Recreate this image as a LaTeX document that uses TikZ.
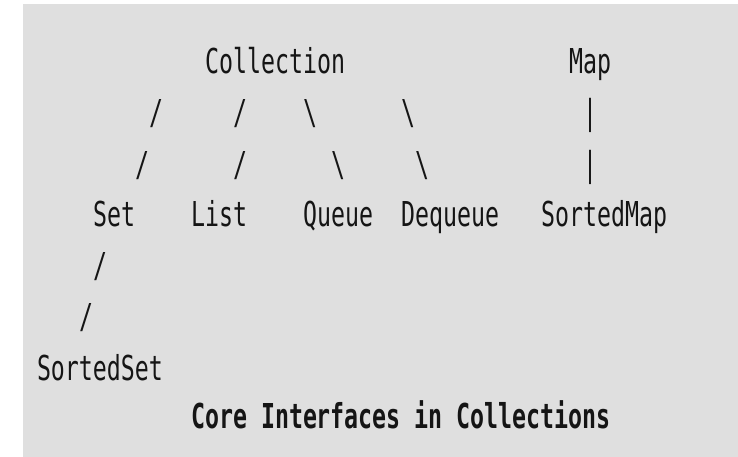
\documentclass[tikz,border=0pt]{standalone}
\usepackage{fontspec}
\newfontfamily\asciifont[FakeStretch=0.678]{DejaVu Sans Mono}
\definecolor{bggray}{HTML}{DFDFDF}
\definecolor{inkc}{HTML}{151515}
\begin{document}
\begin{tikzpicture}[x=1pt,y=-1pt,
  txt/.style={anchor=base west,inner sep=0pt,outer sep=0pt,text=inkc,
    font=\asciifont\fontsize{34.3}{40}\selectfont},
  capt/.style={txt,font=\asciifont\bfseries\fontsize{34.3}{40}\selectfont}]
\useasboundingbox (0,0) rectangle (738,457);
\fill[bggray] (23,4) rectangle (738,457);
% row 0
\node[txt] (collection) at (205,74) {Collection};
\node[txt] (map) at (569,74) {Map};
% row 1
\node[txt] (s1a) at (149,125) {/};
\node[txt] (s1b) at (233,125) {/};
\node[txt] (s1c) at (303,125) {\char`\\};
\node[txt] (s1d) at (401,125) {\char`\\};
\node[txt] (s1e) at (583,125) {|};
% row 2
\node[txt] (s2a) at (135,176) {/};
\node[txt] (s2b) at (233,176) {/};
\node[txt] (s2c) at (331,176) {\char`\\};
\node[txt] (s2d) at (415,176) {\char`\\};
\node[txt] (s2e) at (583,176) {|};
% row 3
\node[txt] (set) at (93,226) {Set};
\node[txt] (list) at (191,226) {List};
\node[txt] (queue) at (303,226) {Queue};
\node[txt] (dequeue) at (401,226) {Dequeue};
\node[txt] (sortedmap) at (541,226) {SortedMap};
% rows 4-5
\node[txt] (s4a) at (93,277) {/};
\node[txt] (s5a) at (79,328) {/};
% row 6
\node[txt] (sortedset) at (37,380) {SortedSet};
% caption
\node[capt] (caption) at (191,428) {Core Interfaces in Collections};
\end{tikzpicture}
\end{document}
